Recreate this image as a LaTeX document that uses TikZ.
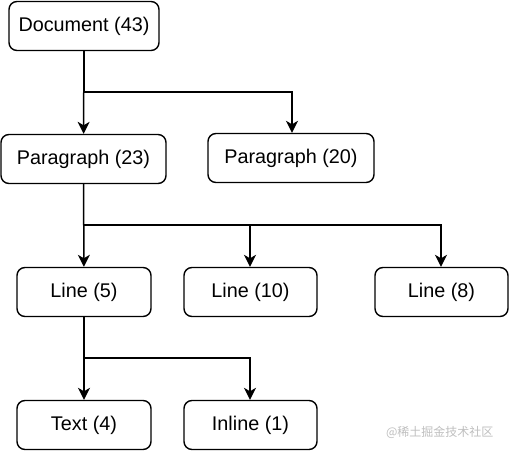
\documentclass[tikz,border=0pt]{standalone}
\usepackage{fontspec}
\setmainfont{Liberation Sans}
\newfontfamily\cjkfont{Noto Sans CJK SC}
\usetikzlibrary{arrows.meta}
\begin{document}
\begin{tikzpicture}[x=1pt,y=-1pt,
  box/.style={draw=black,line width=1.4pt,rounded corners=8pt,fill=white,
    minimum height=49pt,inner sep=0pt,font=\fontsize{19.8}{23}\selectfont},
  conn/.style={line width=1.5pt,-{Stealth[length=12pt,width=12pt,inset=3.5pt]}}]
\useasboundingbox[fill=white] (0,0) rectangle (509,451);
\node[box,minimum width=150pt] (doc) at (84,26) {Document (43)};
\node[box,minimum width=165pt] (p23) at (83.5,159) {Paragraph (23)};
\node[box,minimum width=166pt] (p20) at (291,158) {Paragraph (20)};
\node[box,minimum width=134pt] (l5) at (84,292) {Line (5)};
\node[box,minimum width=133pt] (l10) at (250.5,292) {Line (10)};
\node[box,minimum width=133pt] (l8) at (441.5,292) {Line (8)};
\node[box,minimum width=134pt] (t4) at (84,425) {Text (4)};
\node[box,minimum width=133pt] (i1) at (250.5,425) {Inline (1)};
\draw[conn] (doc) -- (p23);
\draw[conn] (doc.south) |- (292,92) -- (p20.north -| 292,0);
\draw[conn] (p23) -- (l5);
\draw[conn] (p23.south) |- (250,225) -- (l10.north -| 250,0);
\draw[conn] (p23.south) |- (441,225) -- (l8.north -| 441,0);
\draw[conn] (l5) -- (t4);
\draw[conn] (l5.south) |- (250,358) -- (i1.north -| 250,0);
\node[font=\cjkfont\fontsize{12}{14}\selectfont,text=black!25,anchor=east] (wm) at (497,432) {@稀土掘金技术社区};
\end{tikzpicture}
\end{document}
